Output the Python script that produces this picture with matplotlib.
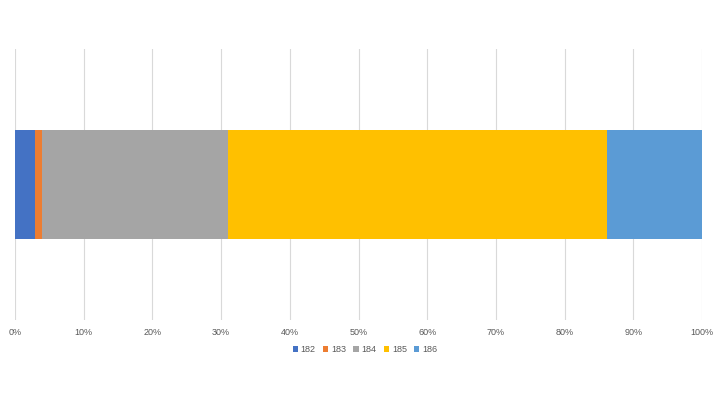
import matplotlib
matplotlib.use('Agg')
import matplotlib.pyplot as plt
from matplotlib.ticker import PercentFormatter

# данные
series = ['182', '183', '184', '185', '186']
shares = [2.9, 1.1, 27.0, 55.1, 13.9]
colors = ['#4472C4', '#ED7D31', '#A5A5A5', '#FFC000', '#5B9BD5']

plt.rcParams['font.family'] = ['Liberation Sans', 'DejaVu Sans']

fig = plt.figure(figsize=(7.2, 4.05), dpi=100)
ax = fig.add_axes([15 / 720, 85 / 405, 687 / 720, 271 / 405])

total = sum(shares)
left = 0
for name, val, col in zip(series, shares, colors):
    pct = val / total * 100
    ax.barh(0, pct, left=left, height=0.4, color=col, label=name, zorder=3)
    left += pct

ax.set_xlim(0, 100)
ax.set_ylim(-0.5, 0.5)
ax.set_xticks(range(0, 101, 10))
ax.xaxis.set_major_formatter(PercentFormatter(decimals=0))
ax.set_yticks([])
ax.grid(axis='x', color='#D9D9D9', linewidth=0.8, zorder=0)
for s in ax.spines.values():
    s.set_visible(False)
ax.tick_params(axis='x', length=0, labelsize=6.5, labelcolor='#595959', pad=6)

fig.legend(loc='center', bbox_to_anchor=(365 / 720, 1 - 350 / 405), ncol=5, frameon=False,
           fontsize=6.5, labelcolor='#595959', handlelength=0.6, handleheight=0.6,
           handletextpad=0.3, columnspacing=0.8)

plt.savefig('out.png', dpi=100)
plt.close()
